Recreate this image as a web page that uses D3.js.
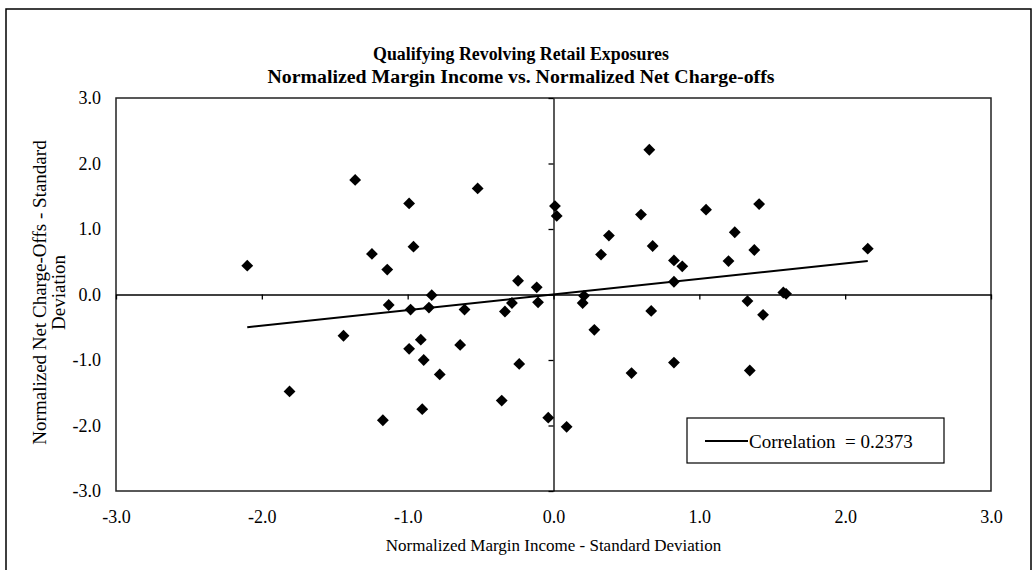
<!DOCTYPE html>
<html>
<head>
<meta charset="utf-8">
<script src="https://cdn.jsdelivr.net/npm/d3@7"></script>
<style>
  body { margin: 0; background: #fff; }
  svg { display: block; font-family: "Liberation Serif", "Times New Roman", serif; }
</style>
</head>
<body>
<svg width="1036" height="570"></svg>
<script>
// normalized margin income (x) and normalized net charge-offs (y)
var marginIncome = [
  -2.10, -1.81, -1.44, -1.36, -1.245, -1.17, -1.14, -1.13, -0.99, -0.98,
  -0.99, -0.96, -0.91, -0.89, -0.90, -0.854, -0.835, -0.78, -0.64, -0.61,
  -0.52, -0.355, -0.333, -0.285, -0.243, -0.235, -0.115, -0.106, -0.036,
  0.01, 0.022, 0.09, 0.20, 0.209, 0.28, 0.326, 0.38, 0.535, 0.60,
  0.657, 0.68, 0.67, 0.826, 0.826, 0.826, 0.883, 1.046, 1.20, 1.243,
  1.33, 1.346, 1.377, 1.41, 1.437, 1.576, 1.595, 2.155
];
var netChargeOffs = [
  0.44, -1.48, -0.63, 1.75, 0.62, -1.92, 0.38, -0.16, 1.39, -0.23,
  -0.83, 0.73, -0.69, -1.00, -1.75, -0.20, -0.01, -1.22, -0.77, -0.23,
  1.62, -1.62, -0.26, -0.13, 0.21, -1.06, 0.11, -0.12, -1.88,
  1.35, 1.20, -2.02, -0.13, -0.02, -0.54, 0.61, 0.90, -1.20, 1.22,
  2.21, 0.74, -0.25, 0.52, 0.195, -1.04, 0.43, 1.295, 0.51, 0.95,
  -0.10, -1.16, 0.68, 1.38, -0.31, 0.03, 0.01, 0.70
];
var tickValues = [-3, -2, -1, 0, 1, 2, 3];
var correlation = 0.2373;
var titleLines = ["Qualifying Revolving Retail Exposures",
                  "Normalized Margin Income vs. Normalized Net Charge-offs"];
var xTitle = "Normalized Margin Income - Standard Deviation";
var yTitleLines = ["Normalized Net Charge-Offs - Standard", "Deviation"];
var legendLabel = "Correlation  = 0.2373";

var points = marginIncome.map(function(v, i) { return {x: v, y: netChargeOffs[i]}; });

var svg = d3.select("svg"),
    margin = {top: 98, right: 45, bottom: 79, left: 116},
    width = +svg.attr("width") - margin.left - margin.right,
    height = +svg.attr("height") - margin.top - margin.bottom;

svg.append("rect").attr("width", 1036).attr("height", 570).attr("fill", "#fff");

// outer frame of the page
svg.append("path")
    .attr("d", "M6,570V9H1031V570")
    .attr("fill", "none")
    .attr("stroke", "#000")
    .attr("stroke-width", 1.5);

var g = svg.append("g").attr("transform", "translate(" + margin.left + "," + margin.top + ")");

var x = d3.scaleLinear().domain([-3, 3]).range([0, width]);
var y = d3.scaleLinear().domain([-3, 3]).range([height, 0]);

var fmt = function(d) { return d.toFixed(1); };

// plot frame
g.append("rect")
    .attr("width", width)
    .attr("height", height)
    .attr("fill", "none")
    .attr("stroke", "#222")
    .attr("stroke-width", 1.5);

// axes crossing at zero
g.append("g")
    .attr("transform", "translate(0," + y(0) + ")")
    .call(d3.axisBottom(x).tickValues(tickValues).tickSize(5).tickSizeOuter(0).tickFormat(""))
    .call(function(a) { a.selectAll("path, line").attr("stroke", "#000").attr("stroke-width", 1.3); });

g.append("g")
    .attr("transform", "translate(" + x(0) + ",0)")
    .call(d3.axisLeft(y).tickValues(tickValues).tickSize(5).tickSizeOuter(0).tickFormat(""))
    .call(function(a) { a.selectAll("path, line").attr("stroke", "#000").attr("stroke-width", 1.3); });

// tick labels at the low edges
g.append("g")
    .attr("transform", "translate(0," + height + ")")
    .call(d3.axisBottom(x).tickValues(tickValues).tickSize(0).tickPadding(19).tickFormat(fmt))
    .call(function(a) {
      a.select(".domain").remove();
      a.selectAll("text").attr("font-size", 18).attr("fill", "#000")
          .attr("font-family", "Liberation Serif, serif");
    });

g.append("g")
    .call(d3.axisLeft(y).tickValues(tickValues).tickSize(0).tickPadding(15).tickFormat(fmt))
    .call(function(a) {
      a.select(".domain").remove();
      a.selectAll("text").attr("font-size", 18).attr("fill", "#000")
          .attr("font-family", "Liberation Serif, serif");
    });

// trend line, y = r * x over the range of the data
var line = d3.line()
    .x(function(d) { return x(d); })
    .y(function(d) { return y(correlation * d); });

g.append("path")
    .datum(d3.extent(marginIncome))
    .attr("fill", "none")
    .attr("stroke", "#000")
    .attr("stroke-width", 2)
    .attr("d", line);

// points
g.selectAll(".pt")
    .data(points)
  .enter().append("path")
    .attr("class", "pt")
    .attr("d", d3.symbol().type(d3.symbolSquare).size(70))
    .attr("transform", function(d) { return "translate(" + x(d.x) + "," + y(d.y) + ") rotate(45)"; })
    .attr("fill", "#000");

// titles
var titleWidths = [296, 507];
svg.append("g").selectAll("text")
    .data(titleLines)
  .enter().append("text")
    .attr("x", 521)
    .attr("y", function(d, i) { return 60 + i * 23; })
    .attr("text-anchor", "middle")
    .attr("font-weight", "bold")
    .attr("font-size", 18)
    .attr("textLength", function(d, i) { return titleWidths[i]; })
    .attr("lengthAdjust", "spacingAndGlyphs")
    .text(function(d) { return d; });

svg.append("text")
    .attr("x", margin.left + x(0))
    .attr("y", 551)
    .attr("text-anchor", "middle")
    .attr("font-size", 17)
    .text(xTitle);

svg.append("g").selectAll("text")
    .data(yTitleLines)
  .enter().append("text")
    .attr("transform", function(d, i) { return "translate(" + (46 + i * 19) + "," + (margin.top + y(0) - 2) + ") rotate(-90)"; })
    .attr("text-anchor", "middle")
    .attr("font-size", 19)
    .text(function(d) { return d; });

// legend
var lg = svg.append("g").attr("transform", "translate(687,418)");
lg.append("rect")
    .attr("width", 257)
    .attr("height", 45)
    .attr("fill", "#fff")
    .attr("stroke", "#000")
    .attr("stroke-width", 1.2);
lg.append("line")
    .attr("x1", 18).attr("x2", 61)
    .attr("y1", 23).attr("y2", 23)
    .attr("stroke", "#000")
    .attr("stroke-width", 2);
lg.append("text")
    .attr("x", 62)
    .attr("y", 29.5)
    .attr("font-size", 19)
    .style("white-space", "pre")
    .text(legendLabel);
</script>
</body>
</html>
